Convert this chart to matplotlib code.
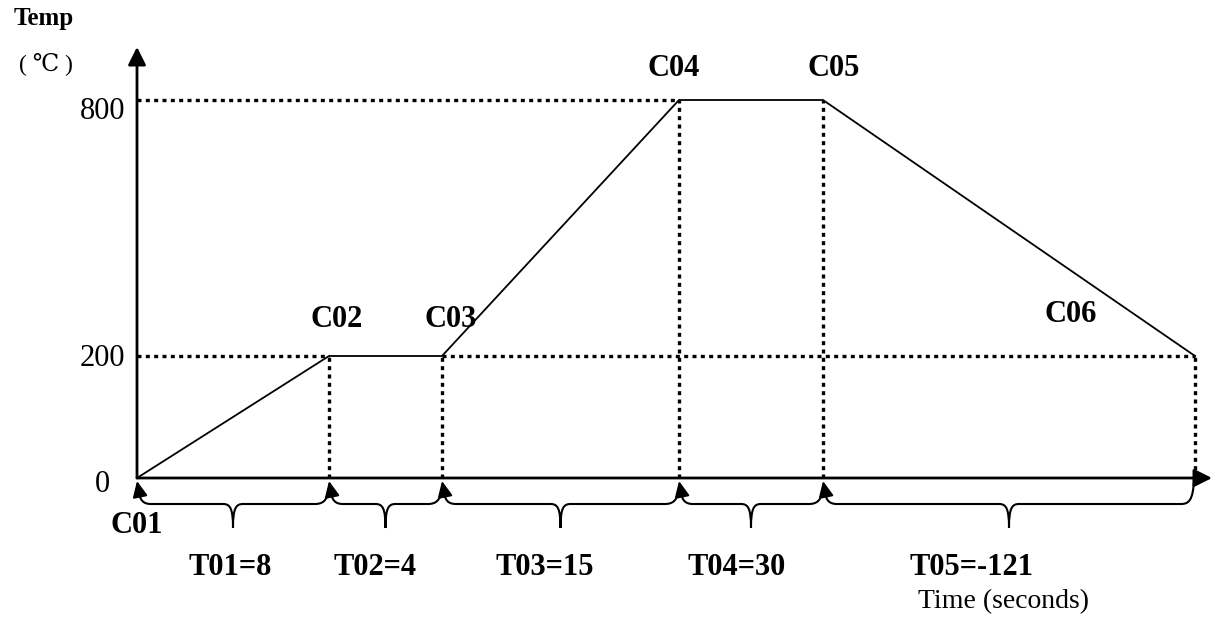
import numpy as np
import matplotlib.pyplot as plt
from matplotlib.path import Path
from matplotlib.patches import PathPatch

plt.rcParams['font.family'] = ['Liberation Serif', 'DejaVu Serif']

# profile points (x = schematic position along time axis)
stage_names = ["C01", "C02", "C03", "C04", "C05", "C06"]
stage_x = [0, 192, 305, 542, 686, 1058]
stage_temp = [0, 200, 200, 800, 800, 200]
seg_labels = ["T01=8", "T02=4", "T03=15", "T04=30", "T05=-121"]
temp_ticks = [0, 200, 800]

# the drawing is not to scale: 0-200 is stretched compared to 200-800
LOW = 122 / 200
HIGH = 256 / 600


def fwd(t):
    t = np.asarray(t, float)
    return np.where(t < 200, t * LOW, 122 + (t - 200) * HIGH)


def inv(h):
    h = np.asarray(h, float)
    return np.where(h < 122, h / LOW, 200 + (h - 122) / HIGH)


def ypx(h):
    # height in pixels above the time axis -> data y
    return float(inv(h))


fig = plt.figure(figsize=(12.16, 6.21), dpi=100)
ax = fig.add_axes([0, 0, 1, 1])
ax.set_yscale('function', functions=(fwd, inv))
ax.set_xlim(-137, 1079)
ax.set_ylim(ypx(-143), ypx(478))
ax.axis('off')

# axes with arrows
axis_arrow = dict(arrowstyle='-|>,head_length=0.54,head_width=0.27',
                  mutation_scale=20, color='k', lw=2, shrinkA=0, shrinkB=0)
ax.annotate('', xy=(1075, 0), xytext=(0, 0), arrowprops=axis_arrow)
ax.annotate('', xy=(0, ypx(431)), xytext=(0, 0), arrowprops=axis_arrow)

# guide lines
dots = dict(color='k', lw=2.4, ls=(0, (1.2, 1.3)))
for x, t in zip(stage_x[1:], stage_temp[1:]):
    ax.plot([x, x], [0, t], **dots)
ax.plot([0, stage_x[3]], [800, 800], **dots)
ax.plot([0, stage_x[1]], [200, 200], **dots)
ax.plot([stage_x[2], stage_x[5]], [200, 200], **dots)

# temperature profile
ax.plot(stage_x, stage_temp, color='k', lw=1.3)

# point labels
c_off = [(0, -55), (8, 29), (9, 29), (-5, 24), (11, 24), (-124, 34)]
for name, x, t, off in zip(stage_names, stage_x, stage_temp, c_off):
    ax.annotate(name, xy=(x, t), xytext=off, textcoords='offset pixels',
                ha='center', va='baseline', fontsize=22, fontweight='bold')

# braces under the time axis
head = dict(arrowstyle='-|>,head_length=0.6,head_width=0.28',
            mutation_scale=16, color='k', lw=1.5, shrinkA=0, shrinkB=0)
lab_dx = [-3, -10, -16, -14, -38]
last = len(seg_labels) - 1
for i, lab in enumerate(seg_labels):
    xl, xr = stage_x[i], stage_x[i + 1]
    xm = (xl + xr) / 2
    end_d = 2 if i == last else 14
    pts = [(xl + 2, 14), (xl + 3, 22), (xl + 6, 26), (xl + 14, 26),
           (xm - 10, 26),
           (xm - 3, 26), (xm, 30), (xm, 50),
           (xm, 30), (xm + 3, 26), (xm + 10, 26),
           (xr - 14, 26),
           (xr - 6, 26), (xr - 2, 22), (xr - 1, end_d)]
    codes = [Path.MOVETO] + [Path.CURVE4] * 3 + [Path.LINETO] + \
        [Path.CURVE4] * 6 + [Path.LINETO] + [Path.CURVE4] * 3
    verts = [(px, ypx(-d)) for px, d in pts]
    ax.add_patch(PathPatch(Path(verts, codes), fill=False, lw=1.5,
                           edgecolor='k', capstyle='round'))
    ax.annotate('', xy=(xl, ypx(-3)), xytext=(xl + 3, ypx(-18)),
                arrowprops=head)
    ax.annotate(lab, xy=(xm, 0), xytext=(lab_dx[i], -97),
                textcoords='offset pixels', ha='center', va='baseline',
                fontsize=22, fontweight='bold')

# temperature tick labels
tick_off = {0: (-35, -14), 200: (-12, -10), 800: (-12, -19)}
for t in temp_ticks:
    ax.annotate(str(t), xy=(0, t), xytext=tick_off[t],
                textcoords='offset pixels', ha='center' if t == 0 else 'right',
                va='baseline', fontsize=22)

ax.text(-93, ypx(453), "Temp", ha='center', va='baseline',
        fontsize=18, fontweight='bold')
ax.text(-91, ypx(408), "( ℃ )", ha='center', va='baseline', fontsize=17)
ax.text(866, ypx(-130), "Time (seconds)", ha='center', va='baseline',
        fontsize=20)

fig.savefig('out.png', dpi=100)
